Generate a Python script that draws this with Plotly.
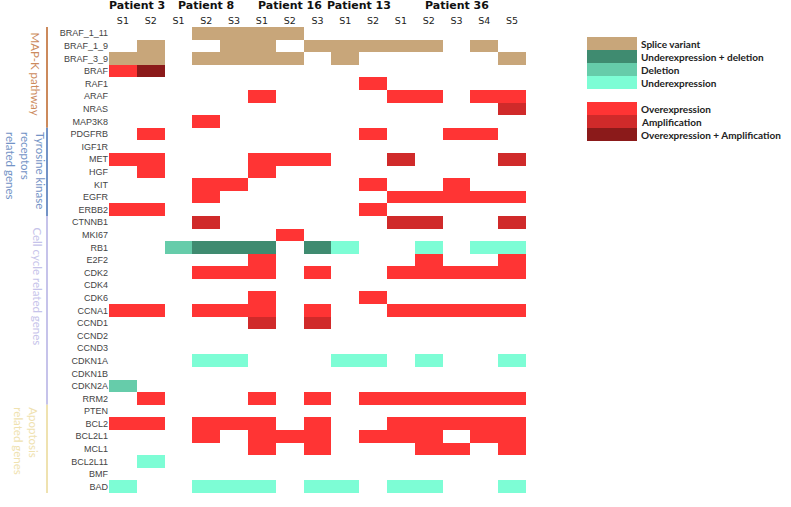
import numpy as np
import plotly.graph_objects as go

W, H = 791, 507


def fx(px):
    return px / W


def fy(py):
    return 1 - py / H


# ---- data ----
patients = ["Patient 3", "Patient 8", "Patient 16", "Patient 13", "Patient 36"]
samples_per_patient = [2, 3, 3, 2, 5]
samples = ["S1", "S2", "S1", "S2", "S3", "S1", "S2", "S3", "S1", "S2",
           "S1", "S2", "S3", "S4", "S5"]

genes = ["BRAF_1_11", "BRAF_1_9", "BRAF_3_9", "BRAF", "RAF1", "ARAF", "NRAS", "MAP3K8",
         "PDGFRB", "IGF1R", "MET", "HGF", "KIT", "EGFR", "ERBB2",
         "CTNNB1", "MKI67", "RB1", "E2F2", "CDK2", "CDK4", "CDK6", "CCNA1", "CCND1",
         "CCND2", "CCND3", "CDKN1A", "CDKN1B", "CDKN2A", "RRM2",
         "PTEN", "BCL2", "BCL2L1", "MCL1", "BCL2L11", "BMF", "BAD"]

# one character per sample:  . none, S splice variant, G underexpression + deletion,
# D deletion, U underexpression, O overexpression, A amplification, X overexpression + amplification
calls = [
    "...SSSS........",  # BRAF_1_11
    ".S..SS.SSSSS.S.",  # BRAF_1_9
    "SS.SSSS.S.....S",  # BRAF_3_9
    "OX.............",  # BRAF
    ".........O.....",  # RAF1
    ".....O....OO.OO",  # ARAF
    "..............A",  # NRAS
    "...O...........",  # MAP3K8
    ".O.......O..OO.",  # PDGFRB
    "...............",  # IGF1R
    "OO...OOO..A...A",  # MET
    ".O...O.........",  # HGF
    "...OO....O..O..",  # KIT
    "...O......OOOOO",  # EGFR
    "OO.......O.....",  # ERBB2
    "...A......AA..A",  # CTNNB1
    "......O........",  # MKI67
    "..DGGG.GU..U.UU",  # RB1
    ".....O.....O..O",  # E2F2
    "...OOO.O..OOOOO",  # CDK2
    "...............",  # CDK4
    ".....O...O.....",  # CDK6
    "OO.OOO.O..OOOOO",  # CCNA1
    ".....A.A.......",  # CCND1
    "...............",  # CCND2
    "...............",  # CCND3
    "...UU...UU.U..U",  # CDKN1A
    "...............",  # CDKN1B
    "D..............",  # CDKN2A
    ".O...O.O.OOOOOO",  # RRM2
    "...............",  # PTEN
    "OO.OOO.O..OOOOO",  # BCL2
    "...O.OOO.OOO.OO",  # BCL2L1
    ".....O.O...OO.O",  # MCL1
    ".U.............",  # BCL2L11
    "...............",  # BMF
    "U..UUU.UU.UU..U",  # BAD
]

codes = ["S", "G", "D", "U", "O", "A", "X"]
code_labels = ["Splice variant", "Underexpression + deletion", "Deletion", "Underexpression",
               "Overexpression", "Amplification", "Overexpression + Amplification"]
code_colors = ["#C8A67A", "#3F8B70", "#66CCAA", "#7DFDD5", "#FF3434", "#D02A2A", "#8B1A1A"]

groups = ["MAP-K pathway", "Tyrosine kinase<br>receptors<br>related genes",
          "Cell cycle related genes", "Apoptosis<br>related genes"]
group_rows = [(0, 7), (8, 14), (15, 29), (30, 36)]
group_colors = ["#CC8A5C", "#7393C6", "#C6C3EA", "#EFE2B0"]

# ---- build ----
z = np.full((len(genes), len(samples)), np.nan)
for i, row in enumerate(calls):
    for j, c in enumerate(row):
        if c in codes:
            z[i, j] = codes.index(c) + 1

n = len(codes)
cscale = []
for k, col in enumerate(code_colors):
    cscale.append([k / n, col])
    cscale.append([(k + 1) / n, col])

fig = go.Figure()
fig.add_trace(go.Heatmap(z=z, x=list(range(len(samples))), y=list(range(len(genes))),
                         colorscale=cscale, zmin=0.5, zmax=n + 0.5, showscale=False,
                         hoverinfo="skip"))

# colour key as a small heatmap
key_z = [[1], [2], [3], [4], [np.nan], [5], [6], [7]]
key_text = code_labels[:4] + [""] + code_labels[4:]
fig.add_trace(go.Heatmap(z=key_z, x=[0], y=list(range(len(key_z))), xaxis="x2", yaxis="y2",
                         colorscale=cscale, zmin=0.5, zmax=n + 0.5, showscale=False,
                         hoverinfo="skip"))

ann = []
# patient headers
start = 0
for p, k in zip(patients, samples_per_patient):
    ann.append(dict(x=start + (k - 1) / 2, xref="x", y=fy(6), yref="paper",
                    text="<b>%s</b>" % p, showarrow=False, xanchor="center", yanchor="middle",
                    font=dict(family="DejaVu Sans", size=11, color="#111")))
    start += k

for i, t in enumerate(key_text):
    if t:
        ann.append(dict(x=fx(639), xref="paper", y=i, yref="y2", text="<b>%s</b>" % t,
                        showarrow=False, xanchor="left", yanchor="middle",
                        font=dict(family="Lato", size=10, color="#222")))

# gene group labels and side lines
shapes = []
for (a, b), col in zip(group_rows, group_colors):
    y0, y1 = a - 0.5, b + 0.5
    if b == len(genes) - 1:
        y1 += 0.4
    shapes.append(dict(type="line", xref="paper", x0=fx(47), x1=fx(47), yref="y",
                       y0=y0, y1=y1, line=dict(color=col, width=2)))

group_x = [35, 25.5, 38, 26]
group_y = [3.2, 10.9, 20.1, 32.4]
for g, col, gx, gy in zip(groups, group_colors, group_x, group_y):
    ann.append(dict(x=fx(gx), xref="paper", y=gy, yref="y", text=g, textangle=90,
                    align="left", showarrow=False, xanchor="center", yanchor="middle",
                    font=dict(family="Lato", size=11.5, color=col)))

fig.update_layout(
    width=W, height=H, margin=dict(l=0, r=0, t=0, b=0),
    paper_bgcolor="white", plot_bgcolor="white",
    annotations=ann, shapes=shapes,
    xaxis=dict(domain=[fx(109), fx(526)], range=[-0.5, len(samples) - 0.5], side="top",
               tickvals=list(range(len(samples))), ticktext=samples, ticks="",
               tickfont=dict(family="DejaVu Sans", size=9.5, color="#222"),
               showgrid=False, zeroline=False, showline=False, automargin=False),
    yaxis=dict(domain=[fy(493), fy(27)], range=[len(genes) - 0.5, -0.5],
               tickvals=list(range(len(genes))), ticktext=genes, ticks="",
               tickfont=dict(family="Liberation Sans", size=9, color="#444"),
               showgrid=False, zeroline=False, showline=False, automargin=False),
    xaxis2=dict(domain=[fx(587), fx(637)], anchor="y2", range=[-0.5, 0.5], visible=False),
    yaxis2=dict(domain=[fy(141), fy(37)], anchor="x2", range=[len(key_z) - 0.5, -0.5],
                visible=False),
)

# drop the page's default body margin so the figure sits at the window corner
fig.write_html("out.html", config={"displayModeBar": False},
               post_script="document.body.style.margin = '0';")
